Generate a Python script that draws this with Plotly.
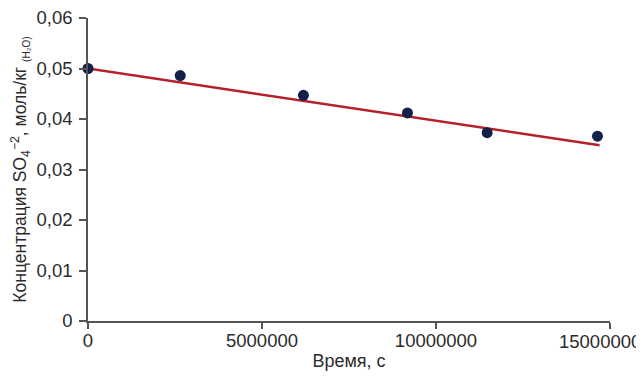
import plotly.graph_objects as go

# Data
time_s = [0, 2650000, 6190000, 9180000, 11470000, 14640000]
conc = [0.0500, 0.0486, 0.0447, 0.0412, 0.0373, 0.0366]

# Trend line (end points)
trend_x = [0, 14700000]
trend_y = [0.0500, 0.0348]

x_tickvals = [0, 5000000, 10000000, 15000000]
x_ticktext = ["0", "5000000", "10000000", "15000000"]
y_tickvals = [0, 0.01, 0.02, 0.03, 0.04, 0.05, 0.06]
y_ticktext = ["0", "0,01", "0,02", "0,03", "0,04", "0,05", "0,06"]

font_family = "Liberation Sans, Arial, sans-serif"
axis_color = "#555555"
text_color = "#2b2b2b"
tick_size = 18.5

fig = go.Figure()
fig.add_trace(go.Scatter(
    x=trend_x, y=trend_y, mode="lines",
    line=dict(color="#b5202a", width=2.5),
    showlegend=False, hoverinfo="skip", cliponaxis=False,
))
fig.add_trace(go.Scatter(
    x=time_s, y=conc, mode="markers",
    marker=dict(color="#13214a", size=11),
    showlegend=False, cliponaxis=False,
))

# last x tick label is pulled left so it stays inside the page (as in the reference)
shown_x_text = x_ticktext[:-1] + [""]
fig.add_annotation(
    x=x_tickvals[-1], xref="x", y=0, yref="paper",
    text=x_ticktext[-1], showarrow=False,
    xanchor="right", yanchor="top", xshift=33, yshift=-8,
    font=dict(family=font_family, size=tick_size, color=text_color),
)

# page body has an 8px default margin, so the figure is 8px smaller
fig.update_layout(
    width=636, height=373,
    margin=dict(l=80, r=34, t=10, b=60),
    plot_bgcolor="white", paper_bgcolor="white",
    font=dict(family=font_family, size=18, color=text_color),
    xaxis=dict(
        range=[0, 15000000],
        tickvals=x_tickvals, ticktext=shown_x_text,
        showgrid=False, zeroline=False, automargin=False,
        showline=True, linecolor=axis_color, linewidth=1.5,
        ticks="outside", ticklen=6, tickcolor=axis_color, tickwidth=1.5,
        tickfont=dict(size=tick_size, color=text_color),
        ticklabelstandoff=-4,
        title=dict(text="Время, с", font=dict(size=18, color=text_color), standoff=4),
    ),
    yaxis=dict(
        range=[0, 0.06],
        tickvals=y_tickvals, ticktext=y_ticktext,
        showgrid=False, zeroline=False, automargin=False,
        showline=True, linecolor=axis_color, linewidth=1.5,
        ticks="outside", ticklen=7, tickcolor=axis_color, tickwidth=1.5,
        tickfont=dict(size=tick_size, color=text_color),
        ticklabelstandoff=3,
        ticklabeloverflow="allow",
        title=dict(
            text="Концентрация SO<sub>4</sub><sup>−2</sup>, моль/кг <sub><span style=\"font-size:10px\">(H₂O)</span></sub>",
            font=dict(size=17.5, color=text_color), standoff=8,
        ),
    ),
)

fig.write_html("out.html")
